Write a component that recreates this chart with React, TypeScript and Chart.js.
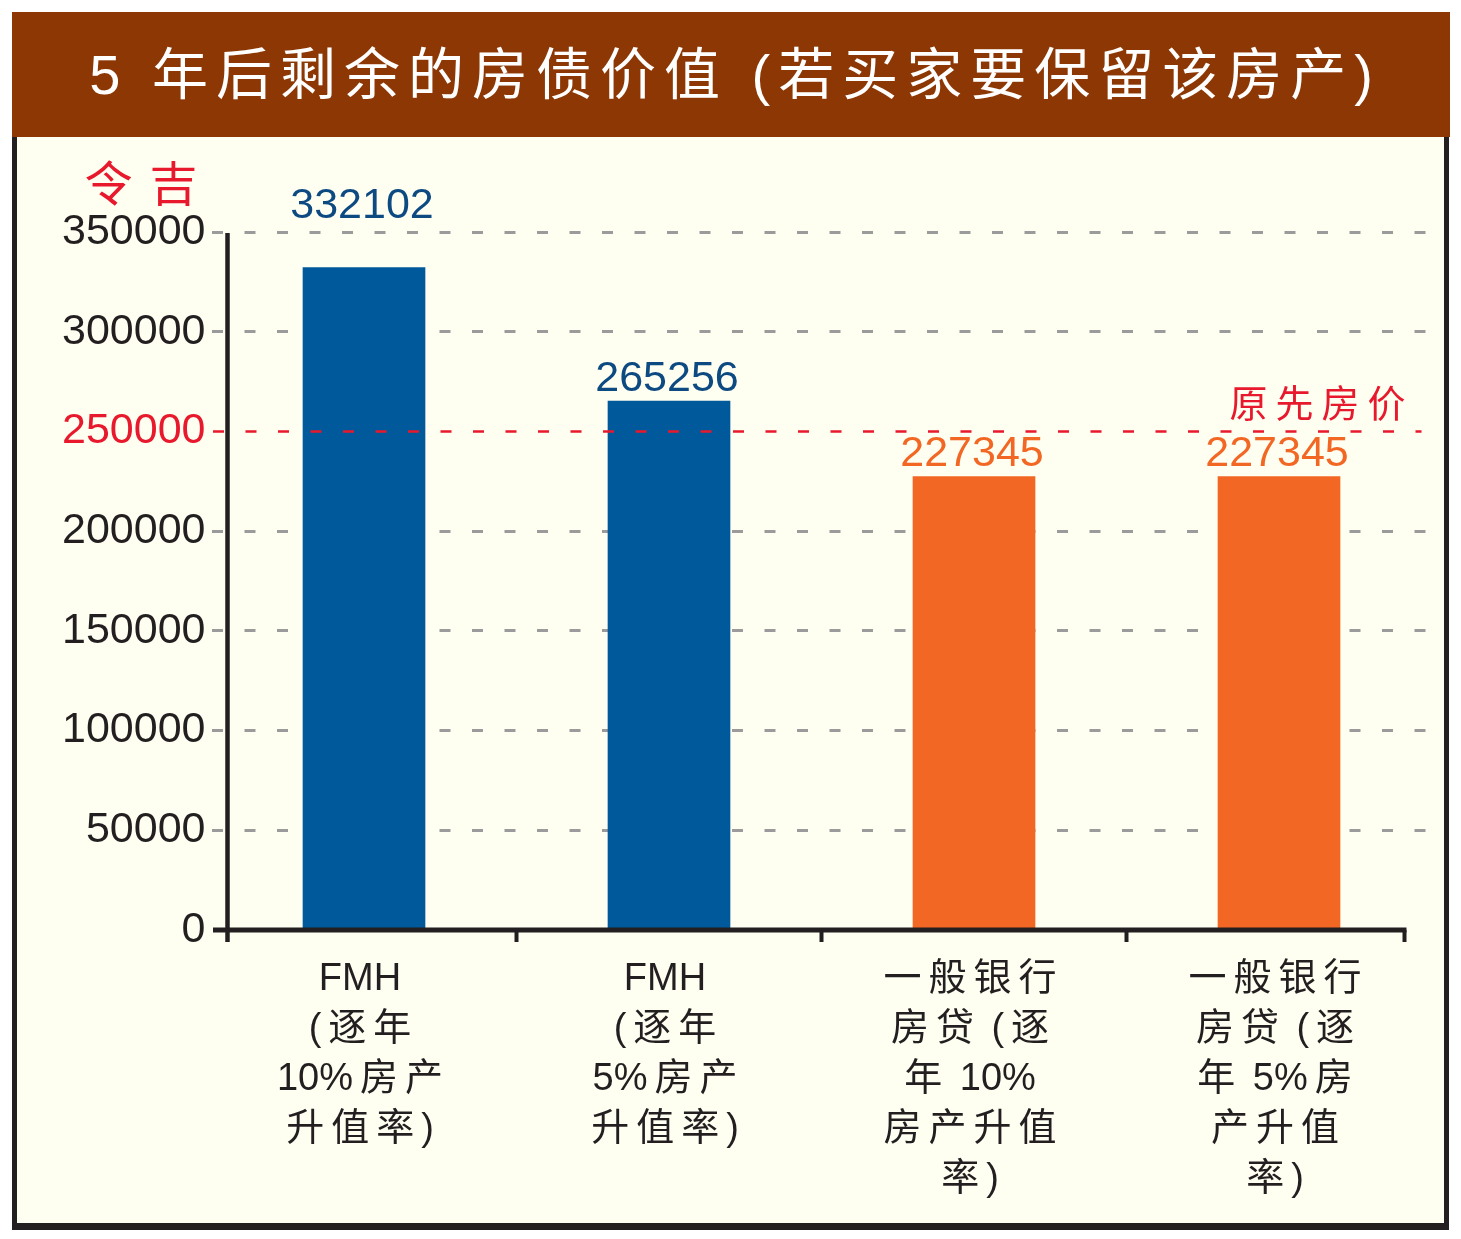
import React, { useEffect, useRef } from 'react';
import { Chart, registerables } from 'chart.js';

Chart.register(...registerables);

const TITLE = '5 年后剩余的房债价值 (若买家要保留该房产)';
const UNIT = '令吉';
const REF_LABEL = '原先房价';
const REF_VALUE = 250000;

const CATEGORIES: string[][] = [
  ['FMH', '(逐年', '10%房产', '升值率)'],
  ['FMH', '(逐年', '5%房产', '升值率)'],
  ['一般银行', '房贷 (逐', '年 10%', '房产升值', '率)'],
  ['一般银行', '房贷 (逐', '年 5%房', '产升值', '率)'],
];
const VALUES = [332102, 265256, 227345, 227345];
const BAR_COLORS = ['#00599B', '#00599B', '#F26724', '#F26724'];
const VALUE_LABEL_COLORS = ['#0D4A82', '#0D4A82', '#F26724', '#F26724'];

const Y_MIN = 0;
const Y_MAX = 350000;
const Y_STEP = 50000;

const INK = '#231F20';
const RED = '#E8192C';
const GRID_GRAY = '#9B9B9B';
const LATIN = '"Liberation Sans", Arial, Helvetica, sans-serif';
const CJK = '"Liberation Sans", "Noto Sans CJK SC", sans-serif';

const isCJK = (ch: string) => /[\u3000-\u9fff\uff00-\uffef]/.test(ch);

// draws a line centred on cx, adding extra spacing only after CJK characters
function drawSpaced(ctx: CanvasRenderingContext2D, text: string, cx: number, y: number, gap: number) {
  const chars = Array.from(text);
  const widths = chars.map((c) => ctx.measureText(c).width);
  const extras = chars.map((c, i) => {
    if (i === chars.length - 1) return 0;
    const next = chars[i + 1];
    return isCJK(c) || isCJK(next) ? gap : 0;
  });
  const total = widths.reduce((a, b) => a + b, 0) + extras.reduce((a, b) => a + b, 0);
  let px = cx - total / 2;
  ctx.textAlign = 'left';
  chars.forEach((c, i) => {
    ctx.fillText(c, px, y);
    px += widths[i] + extras[i];
  });
}

const overlayPlugin = {
  id: 'overlay',
  afterDatasetsDraw(chart: any) {
    const { ctx, chartArea, scales } = chart;
    const x = scales.x;
    const y = scales.y;
    const left = chartArea.left;
    const right = chartArea.right;
    const bottom = chartArea.bottom;
    const top = chartArea.top;

    ctx.save();
    // reference line
    const ry = y.getPixelForValue(REF_VALUE);
    ctx.strokeStyle = RED;
    ctx.lineWidth = 2.5;
    ctx.setLineDash([11, 21.5]);
    ctx.beginPath();
    ctx.moveTo(left + 1.5, ry);
    ctx.lineTo(right - 10, ry);
    ctx.stroke();
    ctx.setLineDash([]);

    // axes
    const axisX = left + 16;
    const lineEnd = right - 25;
    ctx.strokeStyle = INK;
    ctx.lineWidth = 4.5;
    ctx.beginPath();
    ctx.moveTo(axisX, top + 1);
    ctx.lineTo(axisX, bottom + 12);
    ctx.stroke();

    ctx.lineWidth = 5;
    ctx.beginPath();
    ctx.moveTo(left + 1.5, bottom);
    ctx.lineTo(lineEnd, bottom);
    ctx.stroke();

    ctx.lineWidth = 4;
    const tickXs: number[] = [];
    for (let i = 0; i < CATEGORIES.length - 1; i++) {
      tickXs.push((x.getPixelForValue(i) + x.getPixelForValue(i + 1)) / 2);
    }
    tickXs.push(lineEnd - 2);
    ctx.beginPath();
    tickXs.forEach((tx) => {
      ctx.moveTo(tx, bottom);
      ctx.lineTo(tx, bottom + 12);
    });
    ctx.stroke();

    // value labels
    const meta = chart.getDatasetMeta(0);
    ctx.font = `43px ${LATIN}`;
    ctx.textAlign = 'center';
    ctx.textBaseline = 'middle';
    meta.data.forEach((bar: any, i: number) => {
      let ly = bar.y - 22;
      if (ly - 16 < top + 6 && ly + 16 > top - 6) ly = top - 26;
      ctx.fillStyle = VALUE_LABEL_COLORS[i];
      ctx.fillText(String(VALUES[i]), bar.x - 2, ly);
    });

    // category labels
    ctx.font = `38px ${CJK}`;
    ctx.fillStyle = INK;
    ctx.textBaseline = 'alphabetic';
    CATEGORIES.forEach((lines, i) => {
      const cx = x.getPixelForValue(i) - 4;
      lines.forEach((line, k) => {
        drawSpaced(ctx, line, cx, bottom + 60 + k * 50, 7);
      });
    });

    // reference label
    ctx.font = `38px "Noto Sans CJK SC", sans-serif`;
    (ctx as any).letterSpacing = '8px';
    ctx.fillStyle = RED;
    ctx.textAlign = 'right';
    ctx.textBaseline = 'middle';
    ctx.fillText(REF_LABEL, right - 18, ry - 29);

    // unit label
    ctx.font = `48px "Noto Sans CJK SC", sans-serif`;
    (ctx as any).letterSpacing = '17px';
    ctx.textAlign = 'left';
    ctx.fillText(UNIT, left - 127, top - 49);
    (ctx as any).letterSpacing = '0px';
    ctx.restore();
  },
};

export default function App() {
  const canvasRef = useRef<HTMLCanvasElement | null>(null);

  useEffect(() => {
    const canvas = canvasRef.current;
    if (!canvas) return;
    const chart = new Chart(canvas, {
      type: 'bar',
      data: {
        labels: CATEGORIES.map((c) => c.join(' ')),
        datasets: [
          {
            data: VALUES,
            backgroundColor: BAR_COLORS,
            borderWidth: 0,
            barThickness: 122,
          },
        ],
      },
      options: {
        responsive: false,
        animation: false,
        events: [],
        layout: { padding: { left: 0, right: 29.5, top: 232, bottom: 309 } },
        plugins: {
          legend: { display: false },
          title: { display: false },
          tooltip: { enabled: false },
        },
        scales: {
          x: { display: false },
          y: {
            min: Y_MIN,
            max: Y_MAX,
            afterFit: (scale: any) => {
              scale.width = 211.5;
            },
            ticks: {
              stepSize: Y_STEP,
              padding: 6,
              font: { family: LATIN, size: 43 },
              color: (ctx: any) => (ctx.tick && ctx.tick.value === REF_VALUE ? RED : INK),
              callback: (v: any) => String(v),
            },
            grid: {
              drawTicks: false,
              color: (ctx: any) =>
                ctx.tick && (ctx.tick.value === 0 || ctx.tick.value === REF_VALUE) ? 'rgba(0,0,0,0)' : GRID_GRAY,
              lineWidth: 3,
            },
            border: { display: false, dash: [11, 21.5] },
          },
        },
      },
      plugins: [overlayPlugin],
    });
    return () => chart.destroy();
  }, []);

  return (
    <div style={{ position: 'absolute', left: 0, top: 0, width: 1461, height: 1239, background: '#FFFFFF', overflow: 'hidden' }}>
      <div
        style={{
          position: 'absolute',
          left: 12,
          top: 12,
          width: 1438,
          height: 125,
          background: '#8C3704',
          color: '#FFFFFF',
          display: 'flex',
          alignItems: 'center',
          justifyContent: 'center',
          fontFamily: '"Liberation Sans", "Noto Sans CJK SC", sans-serif',
          fontSize: 56,
          letterSpacing: '8px',
          paddingLeft: 8,
          paddingBottom: 10,
          boxSizing: 'border-box',
          whiteSpace: 'nowrap',
        }}
      >
        {TITLE}
      </div>
      <div
        style={{
          position: 'absolute',
          left: 12,
          top: 137,
          width: 1437,
          height: 1093,
          background: '#FEFEF1',
          borderLeft: `5px solid ${INK}`,
          borderRight: `5px solid ${INK}`,
          borderBottom: `7px solid ${INK}`,
          boxSizing: 'border-box',
        }}
      />
      <canvas
        ref={canvasRef}
        width={1461}
        height={1239}
        style={{ position: 'absolute', left: 0, top: 0, width: 1461, height: 1239 }}
      />
    </div>
  );
}
